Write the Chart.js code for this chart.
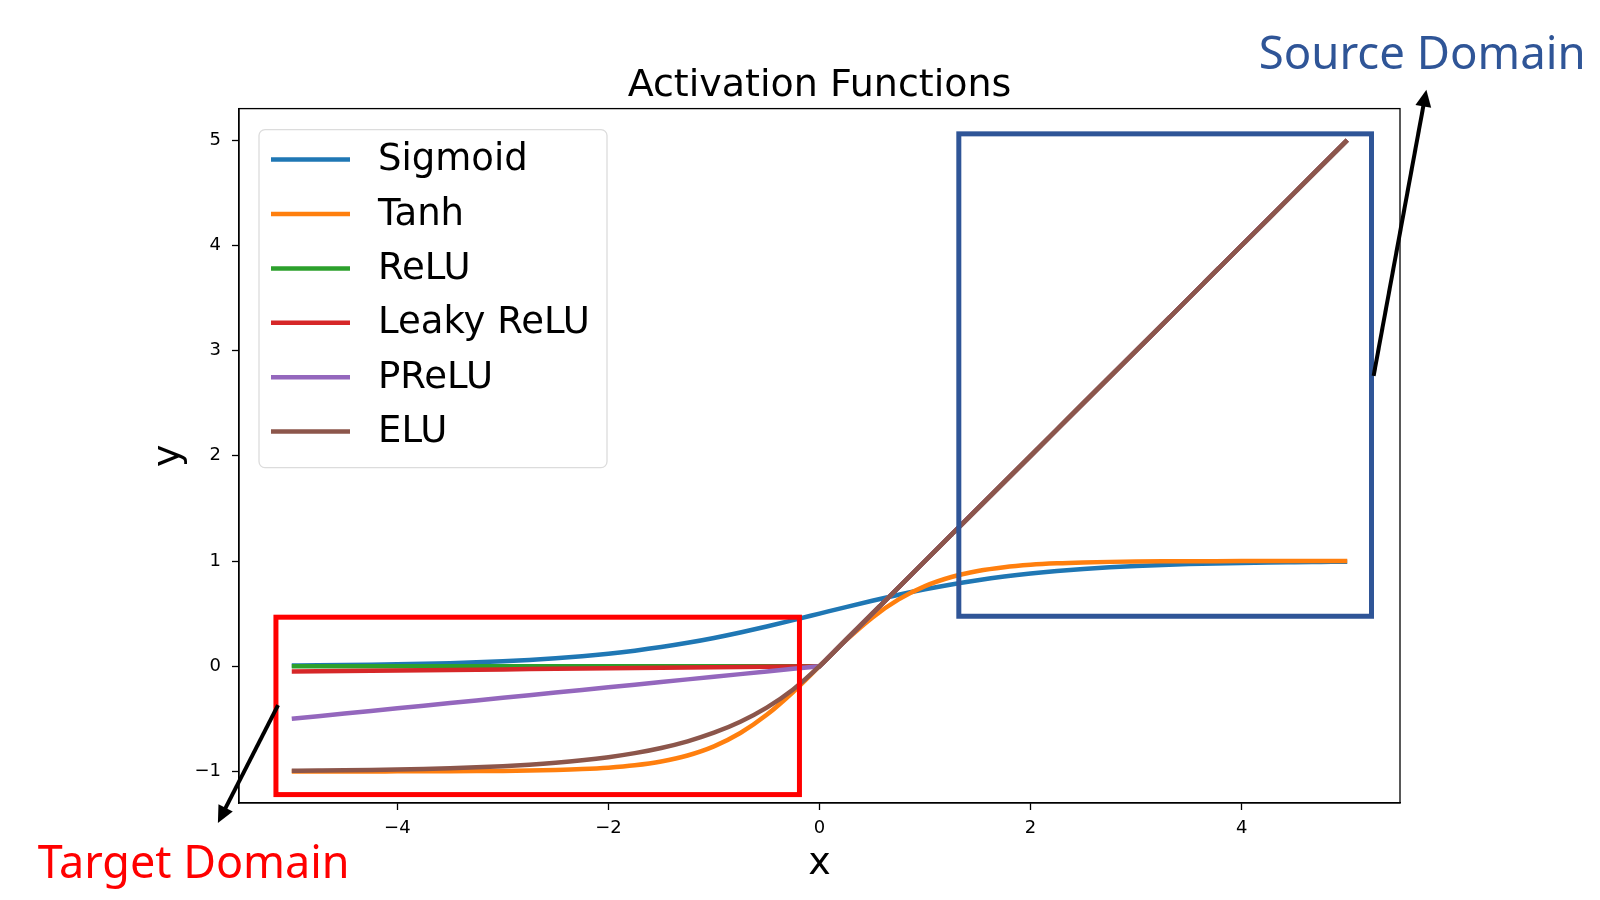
<!DOCTYPE html>
<html>
<head>
<meta charset="utf-8">
<script src="https://cdn.jsdelivr.net/npm/chart.js@4.4.0/dist/chart.umd.min.js"></script>
<style>
  html, body { margin: 0; padding: 0; background: #fff; }
  #wrap { width: 1600px; height: 900px; position: relative; }
</style>
</head>
<body>
<div id="wrap"><canvas id="chart"></canvas></div>
<script>
/* ── Data ── */
const xs = [-5, -4.75, -4.5, -4.25, -4, -3.75, -3.5, -3.25, -3, -2.75, -2.5, -2.25, -2, -1.75, -1.5, -1.25, -1, -0.75, -0.5, -0.25,
  0, 0.25, 0.5, 0.75, 1, 1.25, 1.5, 1.75, 2, 2.25, 2.5, 2.75, 3, 3.25, 3.5, 3.75, 4, 4.25, 4.5, 4.75, 5];

const sigmoid = [0.0067, 0.0086, 0.0110, 0.0140, 0.0180, 0.0230, 0.0293, 0.0373, 0.0474, 0.0601, 0.0759, 0.0953, 0.1192, 0.1480, 0.1824, 0.2227, 0.2689, 0.3208, 0.3775, 0.4378,
  0.5, 0.5622, 0.6225, 0.6792, 0.7311, 0.7773, 0.8176, 0.8520, 0.8808, 0.9047, 0.9241, 0.9399, 0.9526, 0.9627, 0.9707, 0.9770, 0.9820, 0.9860, 0.9890, 0.9914, 0.9933];

const tanh = [-0.9999, -0.9998, -0.9998, -0.9996, -0.9993, -0.9989, -0.9982, -0.9970, -0.9951, -0.9918, -0.9866, -0.9780, -0.9640, -0.9414, -0.9051, -0.8483, -0.7616, -0.6351, -0.4621, -0.2449,
  0, 0.2449, 0.4621, 0.6351, 0.7616, 0.8483, 0.9051, 0.9414, 0.9640, 0.9780, 0.9866, 0.9918, 0.9951, 0.9970, 0.9982, 0.9989, 0.9993, 0.9996, 0.9998, 0.9998, 0.9999];

const relu = [0, 0, 0, 0, 0, 0, 0, 0, 0, 0, 0, 0, 0, 0, 0, 0, 0, 0, 0, 0,
  0, 0.25, 0.5, 0.75, 1, 1.25, 1.5, 1.75, 2, 2.25, 2.5, 2.75, 3, 3.25, 3.5, 3.75, 4, 4.25, 4.5, 4.75, 5];

const leakyRelu = [-0.05, -0.0475, -0.045, -0.0425, -0.04, -0.0375, -0.035, -0.0325, -0.03, -0.0275, -0.025, -0.0225, -0.02, -0.0175, -0.015, -0.0125, -0.01, -0.0075, -0.005, -0.0025,
  0, 0.25, 0.5, 0.75, 1, 1.25, 1.5, 1.75, 2, 2.25, 2.5, 2.75, 3, 3.25, 3.5, 3.75, 4, 4.25, 4.5, 4.75, 5];

const prelu = [-0.5, -0.475, -0.45, -0.425, -0.4, -0.375, -0.35, -0.325, -0.3, -0.275, -0.25, -0.225, -0.2, -0.175, -0.15, -0.125, -0.1, -0.075, -0.05, -0.025,
  0, 0.25, 0.5, 0.75, 1, 1.25, 1.5, 1.75, 2, 2.25, 2.5, 2.75, 3, 3.25, 3.5, 3.75, 4, 4.25, 4.5, 4.75, 5];

const elu = [-0.9933, -0.9913, -0.9889, -0.9857, -0.9817, -0.9765, -0.9698, -0.9612, -0.9502, -0.9361, -0.9179, -0.8946, -0.8647, -0.8262, -0.7769, -0.7135, -0.6321, -0.5276, -0.3935, -0.2212,
  0, 0.25, 0.5, 0.75, 1, 1.25, 1.5, 1.75, 2, 2.25, 2.5, 2.75, 3, 3.25, 3.5, 3.75, 4, 4.25, 4.5, 4.75, 5];

const seriesNames = ['Sigmoid', 'Tanh', 'ReLU', 'Leaky ReLU', 'PReLU', 'ELU'];
const seriesData = [sigmoid, tanh, relu, leakyRelu, prelu, elu];
const smoothSeries = [true, true, false, false, false, true];

const xTicks = [-4, -2, 0, 2, 4];
const yTicks = [-1, 0, 1, 2, 3, 4, 5];

/* ── Overlay annotations, in data units ── */
const targetBox = { x0: -5.15, x1: -0.19, y0: 0.466, y1: -1.22 };
const sourceBox = { x0: 1.32, x1: 5.23, y0: 5.06, y1: 0.475 };
const targetArrow = { from: [-5.13, -0.37], to: [-5.70, -1.49] };
const sourceArrow = { from: [5.25, 2.76], to: [5.75, 5.48] };
const targetLabel = { text: 'Target Domain', at: [-5.93, -1.89], width: 312 };
const sourceLabel = { text: 'Source Domain', at: [5.71, 5.80], width: 327 };

/* ── Matplotlib tab10 ── */
const COLORS = ['#1f77b4', '#ff7f0e', '#2ca02c', '#d62728', '#9467bd', '#8c564b'];
const RED = '#ff0000';
const BLUE = '#2f5597';
const FONT = "'DejaVu Sans', sans-serif";
const minus = v => String(v).replace('-', '\u2212');

/* ── Frame + legend (matplotlib style) ── */
const framePlugin = {
  id: 'frame',
  afterDatasetsDraw(chart) {
    const { ctx, chartArea: a } = chart;
    ctx.save();
    ctx.strokeStyle = '#000';
    ctx.lineWidth = 1.3;
    ctx.strokeRect(a.left, a.top, a.right - a.left, a.bottom - a.top);

    // legend box, upper left
    const lx = a.left + 20, ly = a.top + 21, lw = 348, lh = 338;
    ctx.beginPath();
    ctx.roundRect(lx, ly, lw, lh, 6);
    ctx.fillStyle = 'rgba(255,255,255,0.8)';
    ctx.fill();
    ctx.strokeStyle = '#dcdcdc';
    ctx.lineWidth = 1.3;
    ctx.stroke();

    ctx.font = `37px ${FONT}`;
    ctx.textBaseline = 'middle';
    ctx.fillStyle = '#000';
    chart.data.datasets.forEach((ds, i) => {
      const y = ly + 30 + i * 54.4;
      ctx.beginPath();
      ctx.moveTo(lx + 12, y);
      ctx.lineTo(lx + 91, y);
      ctx.strokeStyle = ds.borderColor;
      ctx.lineWidth = 4.5;
      ctx.stroke();
      ctx.fillText(ds.label, lx + 119, y + 1);
    });
    ctx.restore();
  }
};

function arrow(ctx, x0, y0, x1, y1) {
  const ang = Math.atan2(y1 - y0, x1 - x0);
  const hl = 17, hw = 8;
  const bx = x1 - hl * Math.cos(ang), by = y1 - hl * Math.sin(ang);
  ctx.beginPath();
  ctx.moveTo(x0, y0);
  ctx.lineTo(bx + 4 * Math.cos(ang), by + 4 * Math.sin(ang));
  ctx.lineWidth = 4;
  ctx.strokeStyle = '#000';
  ctx.stroke();
  ctx.beginPath();
  ctx.moveTo(x1, y1);
  ctx.lineTo(bx + hw * Math.sin(ang), by - hw * Math.cos(ang));
  ctx.lineTo(bx - hw * Math.sin(ang), by + hw * Math.cos(ang));
  ctx.closePath();
  ctx.fillStyle = '#000';
  ctx.fill();
}

function fitText(ctx, label, color) {
  ctx.font = `100px 'Liberation Sans Narrow', 'Noto Sans', sans-serif`;
  const size = 100 * label.width / ctx.measureText(label.text).width;
  ctx.font = `${size}px 'Liberation Sans Narrow', 'Noto Sans', sans-serif`;
  ctx.fillStyle = color;
  ctx.textAlign = 'center';
  ctx.textBaseline = 'middle';
}

const overlayPlugin = {
  id: 'overlay',
  afterDraw(chart) {
    const { ctx, scales: { x, y } } = chart;
    const px = v => x.getPixelForValue(v);
    const py = v => y.getPixelForValue(v);
    ctx.save();
    ctx.lineWidth = 5;
    ctx.strokeStyle = RED;
    ctx.strokeRect(px(targetBox.x0), py(targetBox.y0), px(targetBox.x1) - px(targetBox.x0), py(targetBox.y1) - py(targetBox.y0));
    ctx.strokeStyle = BLUE;
    ctx.strokeRect(px(sourceBox.x0), py(sourceBox.y0), px(sourceBox.x1) - px(sourceBox.x0), py(sourceBox.y1) - py(sourceBox.y0));

    arrow(ctx, px(targetArrow.from[0]), py(targetArrow.from[1]), px(targetArrow.to[0]), py(targetArrow.to[1]));
    arrow(ctx, px(sourceArrow.from[0]), py(sourceArrow.from[1]), px(sourceArrow.to[0]), py(sourceArrow.to[1]));

    fitText(ctx, targetLabel, RED);
    ctx.fillText(targetLabel.text, px(targetLabel.at[0]), py(targetLabel.at[1]));
    fitText(ctx, sourceLabel, BLUE);
    ctx.fillText(sourceLabel.text, px(sourceLabel.at[0]), py(sourceLabel.at[1]));
    ctx.restore();
  }
};

const datasets = seriesNames.map((name, i) => ({
  label: name,
  data: xs.map((xv, j) => ({ x: xv, y: seriesData[i][j] })),
  borderColor: COLORS[i],
  backgroundColor: COLORS[i],
  borderWidth: 4.5,
  pointRadius: 0,
  cubicInterpolationMode: smoothSeries[i] ? 'monotone' : 'default',
  tension: 0,
  order: seriesNames.length - i,   // later series on top, like matplotlib
}));

const tickFont = { family: FONT, size: 18 };

new Chart(document.getElementById('chart'), {
  type: 'line',
  data: { datasets },
  options: {
    responsive: true,
    maintainAspectRatio: false,
    animation: false,
    layout: { padding: { left: 130, right: 200, top: 0, bottom: 0 } },
    plugins: {
      legend: { display: false },
      tooltip: { enabled: false },
      title: {
        display: true,
        text: 'Activation Functions',
        fullSize: false,
        color: '#000',
        font: { family: FONT, size: 38, weight: 'normal' },
        padding: { top: 63, bottom: 0 },
      },
    },
    scales: {
      x: {
        type: 'linear',
        min: -5.5,
        max: 5.5,
        afterFit: s => { s.height = 97; },
        afterBuildTicks: s => { s.ticks = xTicks.map(v => ({ value: v })); },
        ticks: { font: tickFont, color: '#000', padding: 8, maxRotation: 0, callback: v => minus(v) },
        grid: { drawOnChartArea: false, drawTicks: true, tickLength: 7, color: '#000', tickWidth: 1.3 },
        border: { display: true, color: '#000', width: 1.3 },
        title: { display: true, text: 'x', color: '#000', font: { family: FONT, size: 38 }, padding: { top: 0, bottom: 13 } },
      },
      y: {
        type: 'linear',
        min: -1.3,
        max: 5.3,
        afterFit: s => { s.width = 109; },
        afterBuildTicks: s => { s.ticks = yTicks.map(v => ({ value: v })); },
        ticks: { font: tickFont, color: '#000', padding: 11, callback: v => minus(v) },
        grid: { drawOnChartArea: false, drawTicks: true, tickLength: 7, color: '#000', tickWidth: 1.3 },
        border: { display: true, color: '#000', width: 1.3 },
        title: { display: true, text: 'y', color: '#000', font: { family: FONT, size: 38 }, padding: { top: 16, bottom: 0 } },
      },
    },
  },
  plugins: [framePlugin, overlayPlugin],
});
</script>
</body>
</html>
